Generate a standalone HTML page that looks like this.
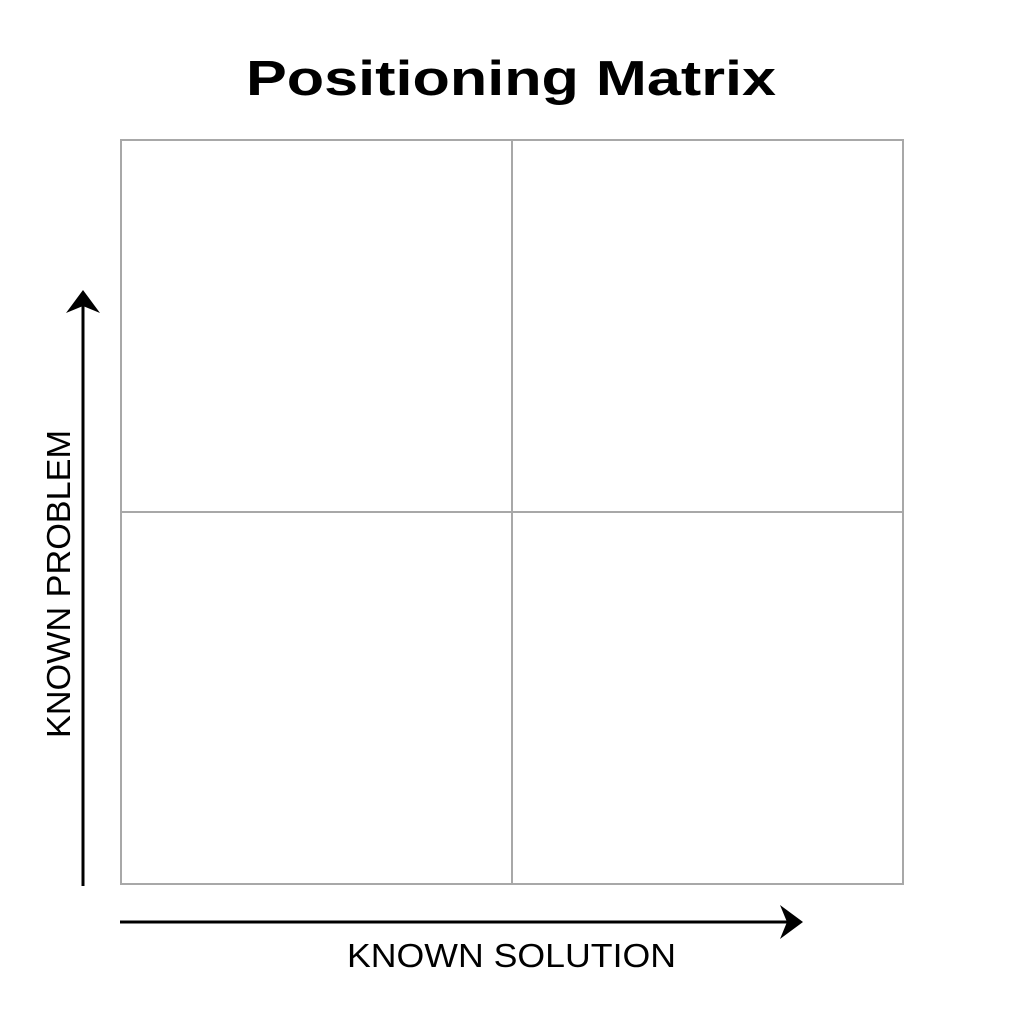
<!DOCTYPE html>
<html><head><meta charset="utf-8"><style>
html,body{margin:0;padding:0;background:#fff;width:1024px;height:1024px;overflow:hidden}
</style></head><body>
<svg width="1024" height="1024" viewBox="0 0 1024 1024" xmlns="http://www.w3.org/2000/svg">
<rect width="1024" height="1024" fill="#fff"/>
<text x="511" y="95" text-anchor="middle" font-family="Liberation Sans, sans-serif" font-weight="bold" font-size="49" textLength="530" lengthAdjust="spacingAndGlyphs" fill="#000">Positioning Matrix</text>
<g stroke="#a8a8a8" stroke-width="2" fill="none">
<rect x="121" y="140" width="782" height="744"/>
<line x1="512" y1="140" x2="512" y2="884"/>
<line x1="121" y1="512" x2="903" y2="512"/>
</g>
<g stroke="#000" stroke-width="3" fill="#000">
<line x1="83" y1="886" x2="83" y2="300"/>
<line x1="120" y1="922" x2="795" y2="922"/>
</g>
<polygon points="83,290 100,313 83,306 66,313" fill="#000"/>
<polygon points="803,922 780,905 787,922 780,939" fill="#000"/>
<text x="676" y="967" text-anchor="end" font-family="Liberation Sans, sans-serif" font-size="33" textLength="329" lengthAdjust="spacingAndGlyphs" fill="#000">KNOWN SOLUTION</text>
<text transform="translate(70,584) rotate(-90)" text-anchor="middle" font-family="Liberation Sans, sans-serif" font-size="33" textLength="308" lengthAdjust="spacingAndGlyphs" fill="#000">KNOWN PROBLEM</text>
</svg>
</body></html>
